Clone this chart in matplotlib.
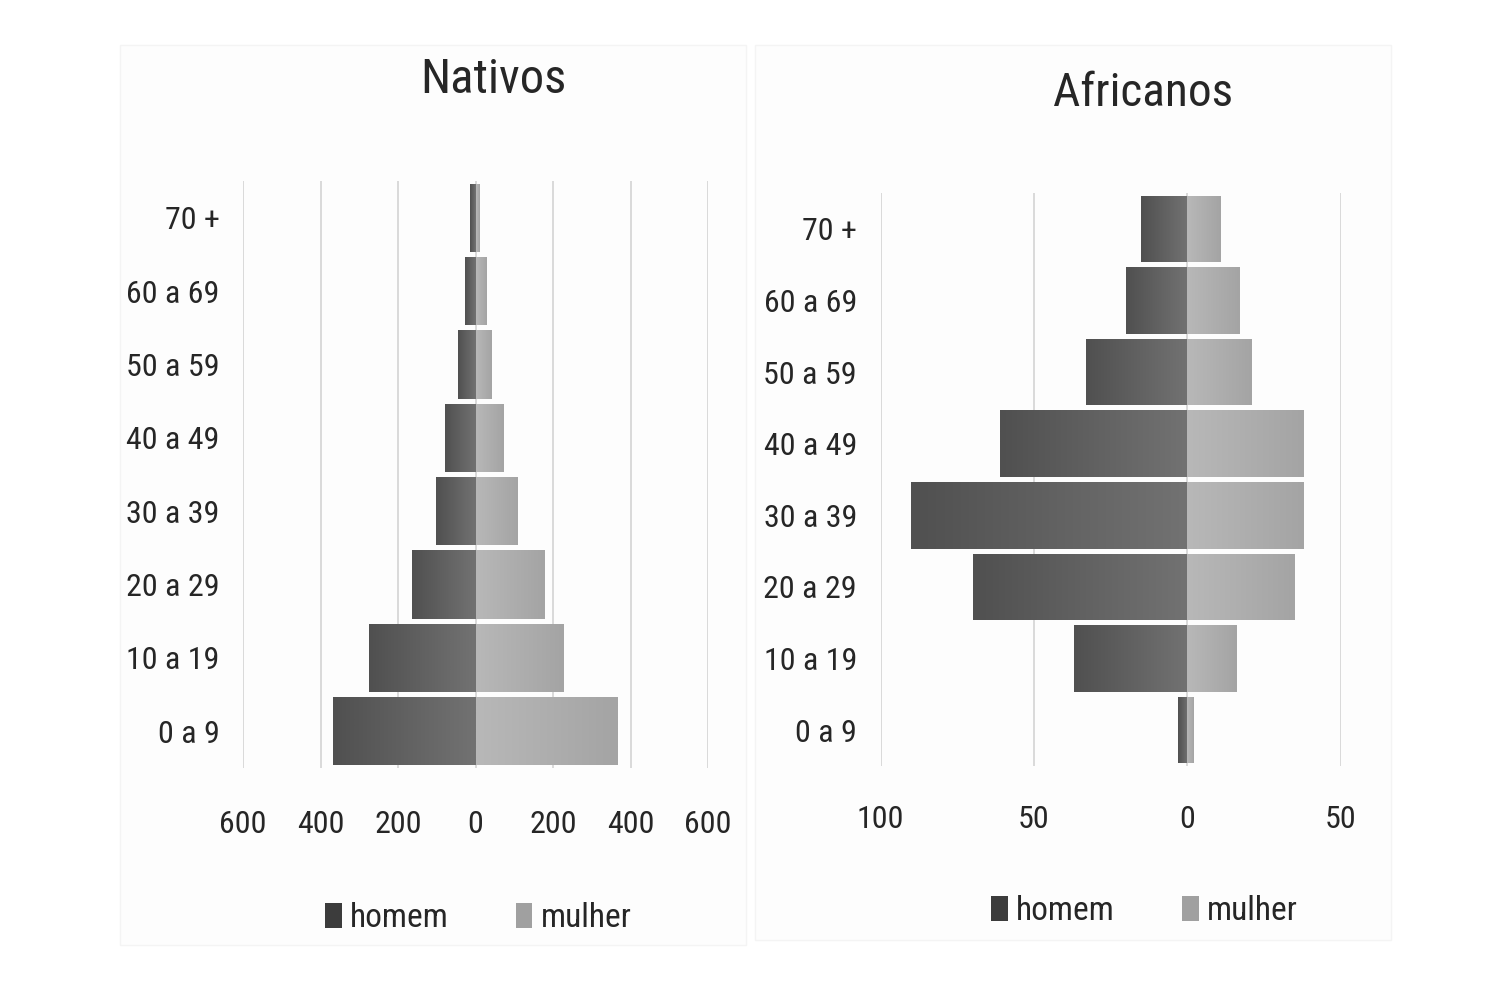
import numpy as np
import matplotlib
matplotlib.use('Agg')
import matplotlib.pyplot as plt
from matplotlib.colors import LinearSegmentedColormap
from matplotlib.patches import Patch, Rectangle
from matplotlib import font_manager

names = {f.name for f in font_manager.fontManager.ttflist}
narrow = [n for n in ['Liberation Sans Narrow', 'Roboto Condensed', 'Open Sans Condensed', 'Lato'] if n in names]
plt.rcParams['font.family'] = narrow + ['DejaVu Sans']

# Age groups (bottom to top)
age_groups = ['0 a 9', '10 a 19', '20 a 29', '30 a 39', '40 a 49', '50 a 59', '60 a 69', '70 +']

# Nativos
nativos_homem = [369, 274, 165, 103, 80, 44, 28, 15]
nativos_mulher = [364, 227, 178, 108, 72, 39, 28, 10]
nativos_ticks = [-600, -400, -200, 0, 200, 400, 600]

# Africanos
africanos_homem = [3, 37, 70, 90, 61, 33, 20, 15]
africanos_mulher = [2, 16, 35, 38, 38, 21, 17, 11]
africanos_ticks = [-100, -50, 0, 50]

text_col = '#262626'


def gradient_fill(ax, bars, c_out, c_in):
    # horizontal gradient: c_out at the outer end, c_in near the centre
    cmap = LinearSegmentedColormap.from_list('g', [c_out, c_in])
    grad = np.linspace(0, 1, 128).reshape(1, -1)
    for b in bars:
        x, y = b.get_xy()
        w, h = b.get_width(), b.get_height()
        x0, x1 = min(x, x + w), max(x, x + w)
        g = grad if w < 0 else grad[:, ::-1]
        im = ax.imshow(g, extent=[x0, x1, y, y + h], aspect='auto', cmap=cmap,
                       interpolation='bilinear', zorder=2, origin='lower')
        im.set_clip_path(b)
        b.set_facecolor('none')


def pyramid(ax, homem, mulher, ticks, xpad):
    y = np.arange(len(age_groups))
    hb = ax.barh(y, [-v for v in homem], height=0.93, color='#606060', linewidth=0, zorder=2)
    mb = ax.barh(y, mulher, height=0.93, color='#aaaaaa', linewidth=0, zorder=2)
    gradient_fill(ax, hb, '#505050', '#727272')
    gradient_fill(ax, mb, '#a4a4a4', '#b8b8b8')
    ax.set_xlim(ticks[0], ticks[-1])
    ax.set_ylim(-0.5, len(age_groups) - 0.5)
    ax.set_xticks(ticks)
    ax.set_xticklabels([str(abs(t)) for t in ticks])
    ax.set_yticks(y)
    ax.set_yticklabels(age_groups)
    ax.tick_params(length=0, labelsize=23, colors=text_col)
    ax.tick_params(axis='x', pad=xpad)
    ax.tick_params(axis='y', pad=17)
    ax.grid(axis='x', color='#d4d4d4', linewidth=1.2, zorder=0)
    ax.set_axisbelow(True)
    for s in ax.spines.values():
        s.set_visible(False)
    ax.set_facecolor('none')


fig = plt.figure(figsize=(15, 10), dpi=100)
fig.patch.set_facecolor('white')

# faint panel backgrounds
fig.add_artist(Rectangle((0.08, 0.055), 0.417, 0.90, transform=fig.transFigure,
                         facecolor='#fdfdfd', edgecolor='#f4f4f4', zorder=0))
fig.add_artist(Rectangle((0.503, 0.06), 0.424, 0.895, transform=fig.transFigure,
                         facecolor='#fdfdfd', edgecolor='#f4f4f4', zorder=0))

ax1 = fig.add_axes([0.162, 0.232, 0.310, 0.587])
ax2 = fig.add_axes([0.587, 0.234, 0.3067, 0.573])

pyramid(ax1, nativos_homem, nativos_mulher, nativos_ticks, 30)
pyramid(ax2, africanos_homem, africanos_mulher, africanos_ticks, 28)

fig.text(0.329, 0.92, 'Nativos', ha='center', va='center', fontsize=35, color=text_col)
fig.text(0.762, 0.907, 'Africanos', ha='center', va='center', fontsize=34, color=text_col)

handles = [Patch(facecolor='#3c3c3c'), Patch(facecolor='#a0a0a0')]
for cx, cy in [(0.319, 0.082), (0.763, 0.089)]:
    fig.legend(handles, ['homem', 'mulher'], loc='center', bbox_to_anchor=(cx, cy),
               ncol=2, frameon=False, fontsize=24, handlelength=0.5, handleheight=0.8,
               handletextpad=0.25, columnspacing=2.0, labelcolor=text_col)

fig.savefig('out.png', dpi=100)
